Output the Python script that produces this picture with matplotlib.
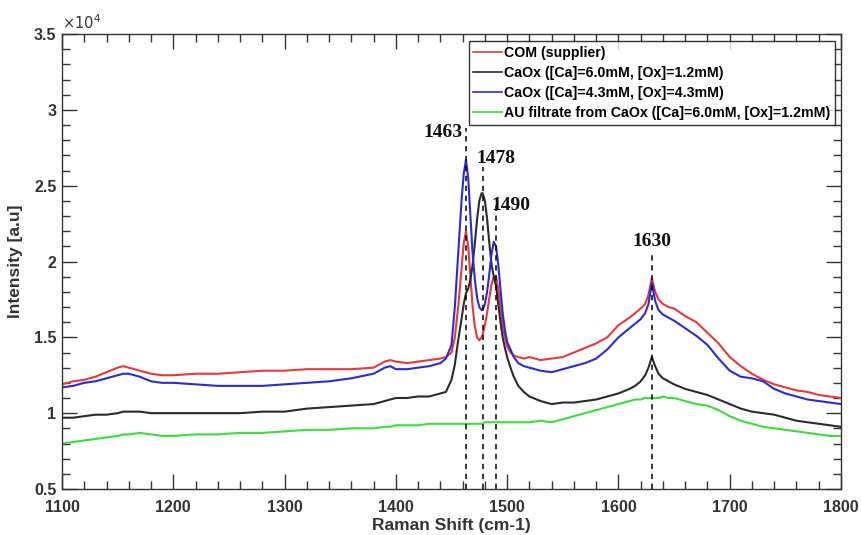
import matplotlib
matplotlib.use("Agg")
import matplotlib.pyplot as plt
from matplotlib.ticker import MultipleLocator, FuncFormatter

# Raman shift (cm-1)
shift = [1100,1110,1120,1130,1140,1150,1155,1160,1170,1180,1190,1200,1220,1240,1260,1280,
         1300,1320,1340,1360,1380,1390,1395,1400,1410,1420,1430,1440,1445,1450,1453,1456,
         1459,1461,1463,1465,1467,1469,1471,1473,1475,1477,1478,1480,1482,1484,1486,1488,
         1490,1492,1494,1496,1498,1500,1503,1506,1510,1515,1520,1530,1540,1550,1560,1570,
         1580,1590,1600,1610,1615,1620,1624,1627,1630,1633,1636,1640,1645,1650,1660,1670,
         1680,1690,1700,1710,1720,1730,1740,1750,1760,1770,1780,1790,1800]

# Intensities in units of 1e4 a.u.
com_supplier = [1.19,1.21,1.22,1.24,1.27,1.30,1.31,1.30,1.28,1.26,1.25,1.25,1.26,1.26,1.27,1.28,
                1.28,1.29,1.29,1.29,1.30,1.34,1.35,1.34,1.33,1.34,1.35,1.36,1.37,1.40,1.50,1.70,
                1.95,2.12,2.20,2.10,1.90,1.70,1.57,1.50,1.48,1.50,1.52,1.58,1.66,1.76,1.85,1.90,
                1.90,1.82,1.70,1.58,1.50,1.44,1.40,1.38,1.37,1.36,1.37,1.35,1.36,1.37,1.40,1.43,
                1.46,1.50,1.58,1.63,1.66,1.69,1.72,1.78,1.89,1.80,1.75,1.72,1.70,1.69,1.64,1.60,
                1.53,1.46,1.37,1.31,1.26,1.22,1.19,1.17,1.15,1.14,1.12,1.11,1.10]

caox_6_12 = [0.97,0.97,0.98,0.99,0.99,1.00,1.01,1.01,1.01,1.00,1.00,1.00,1.00,1.00,1.00,1.01,
             1.01,1.03,1.04,1.05,1.06,1.08,1.09,1.10,1.10,1.11,1.11,1.13,1.14,1.22,1.32,1.48,
             1.62,1.72,1.79,1.82,1.88,1.98,2.12,2.28,2.40,2.45,2.45,2.40,2.28,2.12,1.98,1.90,
             1.84,1.72,1.60,1.50,1.43,1.37,1.30,1.24,1.18,1.14,1.11,1.08,1.06,1.07,1.07,1.08,
             1.09,1.11,1.13,1.16,1.18,1.21,1.25,1.30,1.37,1.31,1.26,1.23,1.21,1.19,1.16,1.14,
             1.12,1.09,1.06,1.03,1.01,1.00,0.99,0.97,0.95,0.94,0.93,0.92,0.91]

caox_43_43 = [1.17,1.18,1.20,1.21,1.23,1.25,1.26,1.26,1.24,1.21,1.20,1.20,1.19,1.18,1.18,1.18,
              1.19,1.20,1.21,1.23,1.26,1.30,1.31,1.29,1.29,1.30,1.31,1.33,1.36,1.45,1.70,2.05,
              2.40,2.58,2.67,2.55,2.30,2.05,1.88,1.76,1.70,1.68,1.68,1.72,1.80,1.92,2.05,2.13,
              2.10,1.98,1.82,1.66,1.55,1.47,1.42,1.37,1.33,1.31,1.30,1.28,1.27,1.29,1.31,1.33,
              1.36,1.42,1.50,1.56,1.59,1.62,1.66,1.72,1.86,1.74,1.68,1.65,1.63,1.61,1.56,1.51,
              1.45,1.36,1.28,1.24,1.23,1.21,1.16,1.13,1.11,1.09,1.08,1.07,1.06]

au_filtrate = [0.80,0.81,0.82,0.83,0.84,0.85,0.86,0.86,0.87,0.86,0.85,0.85,0.86,0.86,0.87,0.87,
               0.88,0.89,0.89,0.90,0.90,0.91,0.91,0.92,0.92,0.92,0.93,0.93,0.93,0.93,0.93,0.93,
               0.93,0.93,0.93,0.93,0.93,0.93,0.93,0.93,0.93,0.93,0.93,0.94,0.94,0.94,0.94,0.94,
               0.94,0.94,0.94,0.94,0.94,0.94,0.94,0.94,0.94,0.94,0.94,0.95,0.94,0.96,0.98,1.00,
               1.02,1.04,1.06,1.08,1.09,1.09,1.10,1.10,1.10,1.10,1.10,1.11,1.10,1.10,1.08,1.06,
               1.05,1.02,0.98,0.95,0.93,0.91,0.90,0.89,0.88,0.87,0.86,0.85,0.85]

series_labels = ["COM (supplier)",
                 "CaOx ([Ca]=6.0mM, [Ox]=1.2mM)",
                 "CaOx ([Ca]=4.3mM, [Ox]=4.3mM)",
                 "AU filtrate from CaOx ([Ca]=6.0mM, [Ox]=1.2mM)"]
series_colors = ["#e8383c", "#2b2b2b", "#2a2ad8", "#3ddc3d"]

peak_positions = [1463, 1478, 1490, 1630]
peak_line_tops = [2.88, 2.62, 2.38, 2.05]

plt.rcParams['font.family'] = ['Liberation Sans', 'DejaVu Sans']

fig = plt.figure(figsize=(8.61, 5.35), dpi=100)
ax = fig.add_axes([62/861, 46/535, 779/861, 455/535])

for ys, lab, col in zip([com_supplier, caox_6_12, caox_43_43, au_filtrate], series_labels, series_colors):
    ax.plot(shift, ys, color=col, lw=1.5, label=lab)

for p, top in zip(peak_positions, peak_line_tops):
    ax.plot([p, p], [0.5, top], color='black', lw=1.1, ls=(0, (3.5, 3)))

ann_style = dict(family=['Liberation Serif', 'DejaVu Serif'], fontweight='bold', fontsize=14, color='#111111')
ax.text(1463 - 3, 2.85, "1463", ha='right', va='center', **ann_style)
ax.text(1478 - 6, 2.68, "1478", ha='left', va='center', **ann_style)
ax.text(1490 - 4, 2.37, "1490", ha='left', va='center', **ann_style)
ax.text(1630, 2.13, "1630", ha='center', va='center', **ann_style)

ax.set_xlim(1100, 1800)
ax.set_ylim(0.5, 3.5)
ax.xaxis.set_major_locator(MultipleLocator(100))
ax.xaxis.set_minor_locator(MultipleLocator(20))
ax.yaxis.set_major_locator(MultipleLocator(0.5))
ax.yaxis.set_minor_locator(MultipleLocator(0.1))
ax.yaxis.set_major_formatter(FuncFormatter(lambda v, pos: ('%g' % round(v, 2))))

ax.tick_params(which='both', direction='in', top=True, right=True, colors='#333333',
               labelsize=11.5, width=1.0)
ax.tick_params(which='major', length=11)
ax.tick_params(axis='x', which='major', pad=8)
ax.tick_params(axis='y', which='major', pad=4)
ax.tick_params(which='minor', length=5.5)
for lab in ax.get_xticklabels() + ax.get_yticklabels():
    lab.set_fontweight('bold')
for s in ax.spines.values():
    s.set_color('#333333')
    s.set_linewidth(1.0)

ax.set_xlabel("Raman Shift (cm-1)", fontsize=12.5, fontweight='bold', color='#333333', labelpad=2)
ax.set_ylabel("Intensity [a.u]", fontsize=12.5, fontweight='bold', color='#333333', labelpad=8)
ax.text(0.0, 1.005, r"$\times10^4$", transform=ax.transAxes, fontsize=10.5, color='#333333',
        ha='left', va='bottom')

leg = ax.legend(loc='upper right', bbox_to_anchor=(0.9925, 0.985),
                prop={'weight': 'bold', 'size': 10.2}, frameon=True, fancybox=False,
                handlelength=2.0, handletextpad=0.15, borderpad=0.35, labelspacing=0.42,
                borderaxespad=0.0)
leg.get_frame().set_edgecolor('black')
leg.get_frame().set_linewidth(1.0)
for line in leg.get_lines():
    line.set_linewidth(1.2)

fig.savefig("out.png", dpi=100)
